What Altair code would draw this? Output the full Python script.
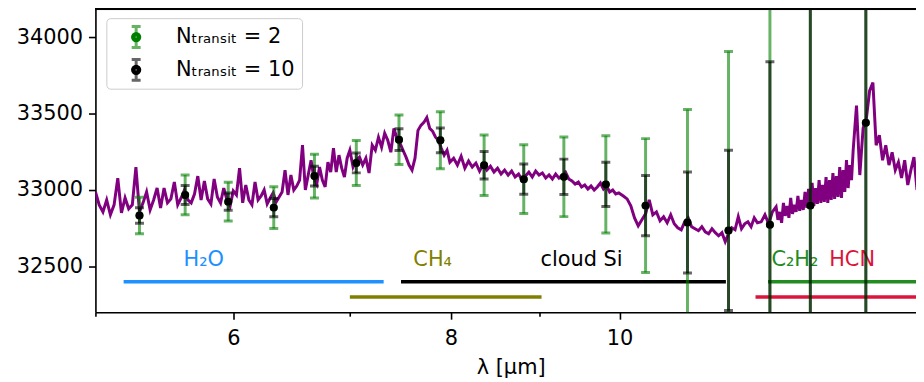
import altair as alt
import pandas as pd

# ---------------- spectrum ----------------
WL_A = [5.000, 5.025, 5.050, 5.075, 5.100, 5.125, 5.150, 5.175, 5.200, 5.225,
        5.250, 5.275, 5.300, 5.325, 5.350, 5.375, 5.400, 5.425, 5.450, 5.475,
        5.500, 5.525, 5.550, 5.575, 5.600, 5.625, 5.650, 5.675, 5.700, 5.725,
        5.750, 5.775, 5.800, 5.825, 5.850, 5.875, 5.900, 5.925, 5.950, 5.975, 6.000]
FL_A = [32990, 32903, 32857, 32935, 32838, 32903, 33078, 32850, 32948, 32877,
        32903, 33150, 32857, 32916, 32987, 32870, 32935, 33013, 32883, 33013,
        32916, 32942, 33052, 32903, 32948, 33000, 32935, 32916, 32974, 33091,
        32935, 33059, 32942, 32909, 33072, 32955, 32916, 33013, 32935, 32896, 32994]

WL_B = [6.025, 6.050, 6.075, 6.100, 6.125, 6.150, 6.175, 6.200, 6.225, 6.250,
        6.275, 6.300, 6.325, 6.350, 6.375, 6.400, 6.425, 6.450, 6.475, 6.500,
        6.525, 6.550, 6.575, 6.600, 6.625, 6.650, 6.675, 6.700, 6.725, 6.750,
        6.775, 6.800, 6.825, 6.850, 6.875, 6.900, 6.925, 6.950, 6.975, 7.000]
FL_B = [32968, 33143, 32916, 33033, 32935, 32903, 33052, 32935, 32961, 33000,
        32909, 32948, 32981, 32922, 32955, 32987, 33130, 32968, 33098, 33000,
        33026, 33065, 33293, 33000, 33098, 33195, 33078, 33039, 33150, 33065,
        33020, 33182, 33117, 33273, 33117, 33228, 33143, 33085, 33208, 33260]

WL_C = [7.03, 7.06, 7.09, 7.12, 7.15, 7.18, 7.21, 7.24, 7.27, 7.30,
        7.33, 7.36, 7.39, 7.42, 7.45, 7.48, 7.51, 7.54, 7.57, 7.60,
        7.63, 7.66, 7.69, 7.72, 7.75, 7.78, 7.81, 7.84, 7.87, 7.90,
        7.93, 7.96, 7.99]
FL_C = [33150, 33195, 33215, 33163, 33208, 33111, 33293, 33260, 33345, 33280,
        33371, 33325, 33247, 33403, 33338, 33306, 33260, 33215, 33163, 33130,
        33208, 33390, 33423, 33442, 33474, 33403, 33384, 33345, 33325, 33273,
        33228, 33260, 33182]

WL_D = [8.03, 8.07, 8.11, 8.15, 8.19, 8.23, 8.27, 8.31, 8.35, 8.39,
        8.43, 8.47, 8.51, 8.55, 8.59, 8.63, 8.67, 8.71, 8.75, 8.79,
        8.83, 8.87, 8.91, 8.95, 8.99, 9.03, 9.07, 9.11, 9.15, 9.19,
        9.23, 9.27, 9.31, 9.35, 9.39, 9.43, 9.47, 9.51, 9.55, 9.59,
        9.63, 9.67, 9.71, 9.75, 9.79, 9.83, 9.87, 9.91, 9.95, 9.99]
FL_D = [33208, 33163, 33221, 33143, 33189, 33150, 33176, 33124, 33169, 33130,
        33156, 33117, 33143, 33104, 33130, 33098, 33124, 33085, 33104, 33065,
        33091, 33117, 33085, 33124, 33098, 33111, 33078, 33098, 33072, 33104,
        33078, 33098, 33117, 33072, 33059, 33039, 33052, 33020, 33033, 33007,
        33026, 33000, 33020, 33046, 33007, 33026, 32987, 33000, 32974, 32981]

WL_E = [10.05, 10.10, 10.15, 10.20, 10.25, 10.30, 10.35, 10.40, 10.45, 10.50,
        10.55, 10.60, 10.65, 10.70, 10.75, 10.80, 10.85, 10.90, 10.95, 11.00,
        11.05, 11.10, 11.15, 11.20, 11.25, 11.30, 11.35, 11.40, 11.45, 11.50,
        11.55, 11.60, 11.65, 11.70, 11.75, 11.80, 11.85, 11.90, 11.95, 12.00]
FL_E = [32961, 32942, 32896, 32818, 32766, 32805, 32844, 32935, 32838, 32857,
        32799, 32825, 32786, 32838, 32779, 32753, 32740, 32792, 32818, 32760,
        32747, 32734, 32760, 32727, 32714, 32747, 32721, 32701, 32721, 32662,
        32714, 32753, 32740, 32825, 32747, 32779, 32792, 32760, 32818, 32786]

WL_F = [12.06, 12.12, 12.18, 12.24]
FL_F = [32792, 32838, 32779, 32857]

WL_G = [12.30, 12.33, 12.36, 12.39, 12.42, 12.45, 12.48, 12.51, 12.54, 12.57,
        12.60, 12.63, 12.66, 12.69, 12.72, 12.75, 12.78, 12.81, 12.84, 12.87,
        12.90, 12.93, 12.96, 12.99, 13.02, 13.05, 13.08, 13.11, 13.14, 13.17,
        13.20, 13.23, 13.26, 13.29, 13.32, 13.35, 13.38, 13.41, 13.44, 13.47,
        13.50, 13.53, 13.56, 13.59, 13.62]
FL_G = [32890, 32805, 32857, 32786, 32916, 32831, 32896, 32818, 32948, 32844,
        32903, 32857, 32961, 32864, 32935, 32870, 32987, 32883, 33007, 32890,
        33046, 32896, 33013, 32909, 33065, 32916, 33033, 32922, 33085, 32916,
        33065, 32935, 33111, 32942, 33091, 32955, 33150, 32948, 33130, 32987,
        33195, 33013, 33163, 33065, 33260]

WL_H = [13.68, 13.74, 13.80, 13.86, 13.92, 13.98, 14.04, 14.10, 14.16, 14.22,
        14.28, 14.34, 14.40, 14.46, 14.52, 14.58, 14.64, 14.70, 14.76, 14.82]
FL_H = [33552, 33098, 33403, 33468, 33650, 33702, 33293, 33358, 33195, 33293,
        33163, 33247, 33130, 33182, 33078, 33195, 33033, 33130, 33215, 33000]

# ---------------- binned points with error bars ----------------
PT_WL = [5.30, 5.63, 5.96, 6.33, 6.68, 7.06, 7.47, 7.89, 8.36, 8.81,
         9.29, 9.82, 10.35, 10.94, 11.55, 12.20, 12.87, 13.85]
PT_FLUX = [32833, 32968, 32924, 32885, 33091, 33177, 33329, 33325, 33162, 33071,
           33086, 33037, 32898, 32788, 32736, 32773, 32898, 33440]
ERR_N2 = [119, 130, 127, 136, 143, 147, 162, 186, 198, 225,
          260, 318, 438, 738, 1169, 2375, 3350, 4470]
ERR_N10 = [51, 62, 56, 60, 65, 65, 71, 81, 90, 99,
           116, 145, 197, 330, 524, 1065, 1500, 2000]

# ---------------- molecule bands ----------------
BAND_NAME = ["H\u2082O", "CH\u2084", "cloud Si", "C\u2082H\u2082", "HCN"]
BAND_START = [5.19, 7.00, 7.49, 12.17, 11.97]
BAND_END = [7.32, 9.02, 11.51, 20.0, 20.0]
BAND_LEVEL = [32400, 32300, 32400, 32400, 32300]
BAND_LABEL_X = [5.77, 7.81, 9.51, 12.61, 13.60]
BAND_LABEL_Y = [32500, 32500, 32500, 32500, 32500]
BAND_COLOR = ["#1e90ff", "#808000", "#000000", "#228b22", "#dc143c"]

LEG_LABELS = ["N\u209c\u1d63\u2090\u2099\u209b\u1d62\u209c = 2",
              "N\u209c\u1d63\u2090\u2099\u209b\u1d62\u209c = 10"]
LEG_DOTS = ["dot2", "dot10"]

X_DOMAIN = [5.0, 14.80]
Y_DOMAIN = [32201, 34182]
X_TICKS = [5, 6, 7, 8, 9, 10]
Y_TICKS = [32500, 33000, 33500, 34000]

FONT = "DejaVu Sans"
FS = 21

spec = pd.DataFrame({"wl": WL_A + WL_B + WL_C + WL_D + WL_E + WL_F + WL_G + WL_H,
                     "flux": FL_A + FL_B + FL_C + FL_D + FL_E + FL_F + FL_G + FL_H})
pts = pd.DataFrame({"wl": PT_WL, "flux": PT_FLUX, "e2": ERR_N2, "e10": ERR_N10})
pts["lo2"] = pts["flux"] - pts["e2"]
pts["hi2"] = pts["flux"] + pts["e2"]
pts["lo10"] = pts["flux"] - pts["e10"]
pts["hi10"] = pts["flux"] + pts["e10"]
bands = pd.DataFrame({"name": BAND_NAME, "x1": BAND_START, "x2": BAND_END,
                      "lvl": BAND_LEVEL, "lx": BAND_LABEL_X, "ly": BAND_LABEL_Y,
                      "col": BAND_COLOR})
leg = pd.DataFrame({"wl": [1.0, 1.0], "flux": [33000, 33000],
                    "series": LEG_LABELS, "dot": LEG_DOTS})

xs = alt.Scale(type="log", domain=X_DOMAIN, nice=False)
ys = alt.Scale(domain=Y_DOMAIN, nice=False, zero=False)

x_axis = alt.Axis(values=X_TICKS, format="d",
                  labelExpr="(datum.value == 6 || datum.value == 8 || datum.value == 10) ? datum.label : ''",
                  tickSize={"condition": {"test": "datum.value == 5 || datum.value == 7 || datum.value == 9",
                                          "value": 4}, "value": 7},
                  labelOverlap=False, labelFlush=False, labelPadding=8, grid=False,
                  title="\u03bb [\u03bcm]", titleX=418, titlePadding=9,
                  titleFont=FONT, titleFontSize=FS, titleFontWeight="normal", titleColor="black",
                  labelFont=FONT, labelFontSize=FS, labelColor="black",
                  domainColor="black", domainWidth=1.6, tickColor="black", tickWidth=1.6)
y_axis = alt.Axis(values=Y_TICKS, format="d", tickSize=7, labelPadding=6, grid=False,
                  title=None, labelFont=FONT, labelFontSize=FS, labelColor="black",
                  domainColor="black", domainWidth=1.6, tickColor="black", tickWidth=1.6)


def xq(field):
    return alt.X(field, type="quantitative", scale=xs, axis=x_axis)


def yq(field):
    return alt.Y(field, type="quantitative", scale=ys, axis=y_axis)


band_lines = alt.Chart(bands).mark_rule(strokeWidth=3.5, clip=True).encode(
    x=xq("x1"), x2="x2:Q", y=yq("lvl"), color=alt.Color("col:N", scale=None))
band_text = alt.Chart(bands).mark_text(font=FONT, fontSize=FS, align="center",
                                       baseline="alphabetic").encode(
    x=xq("lx"), y=yq("ly"), text="name:N", color=alt.Color("col:N", scale=None))

line = alt.Chart(spec).mark_line(color="#800080", strokeWidth=3, clip=True).encode(
    x=xq("wl"), y=yq("flux"))

bar2 = alt.Chart(pts).mark_rule(color="#008000", opacity=0.6, strokeWidth=3, clip=True).encode(
    x=xq("wl"), y=yq("lo2"), y2="hi2:Q")
cap2lo = alt.Chart(pts).mark_tick(color="#008000", opacity=0.6, orient="horizontal",
                                  size=9, thickness=3, clip=True).encode(x=xq("wl"), y=yq("lo2"))
cap2hi = alt.Chart(pts).mark_tick(color="#008000", opacity=0.6, orient="horizontal",
                                  size=9, thickness=3, clip=True).encode(x=xq("wl"), y=yq("hi2"))
bar10 = alt.Chart(pts).mark_rule(color="#000000", opacity=0.6, strokeWidth=3, clip=True).encode(
    x=xq("wl"), y=yq("lo10"), y2="hi10:Q")
cap10lo = alt.Chart(pts).mark_tick(color="#000000", opacity=0.6, orient="horizontal",
                                   size=9, thickness=3, clip=True).encode(x=xq("wl"), y=yq("lo10"))
cap10hi = alt.Chart(pts).mark_tick(color="#000000", opacity=0.6, orient="horizontal",
                                   size=9, thickness=3, clip=True).encode(x=xq("wl"), y=yq("hi10"))
dots2 = alt.Chart(pts).mark_point(filled=True, size=64, color="#008000", opacity=1).encode(
    x=xq("wl"), y=yq("flux"))
dots10 = alt.Chart(pts).mark_point(filled=True, size=64, color="#000000", opacity=1).encode(
    x=xq("wl"), y=yq("flux"))

top_spine = alt.Chart(spec).mark_rule(color="black", strokeWidth=1.6).encode(
    y=alt.datum(Y_DOMAIN[1], scale=ys, axis=y_axis))

PATH_BAR = ("M-0.125,-1L0.125,-1L0.125,1L-0.125,1Z "
            "M-0.375,-1L0.375,-1L0.375,-0.75L-0.375,-0.75Z "
            "M-0.375,0.75L0.375,0.75L0.375,1L-0.375,1Z")
PATH_DOT = " ".join(
    "M-{r},0A{r},{r},0,1,1,{r},0A{r},{r},0,1,1,-{r},0Z".format(r=r)
    for r in ["0.03", "0.06", "0.09", "0.12", "0.15", "0.18"])

leg_a = alt.Legend(title=None, orient="none", legendX=11, legendY=9, padding=7,
                   symbolOffset=11, labelOffset=28, rowPadding=9,
                   symbolType=PATH_BAR, symbolSize=576, symbolStrokeWidth=0,
                   labelFont=FONT, labelFontSize=FS, labelColor="black", labelLimit=400,
                   fillColor="rgba(255,255,255,0.8)", strokeColor="#cccccc", cornerRadius=4)
leg_b = alt.Legend(title=None, orient="none", legendX=11, legendY=9, padding=4,
                   symbolOffset=11, labelOffset=28, rowPadding=3,
                   symbolType=PATH_DOT, symbolSize=576, symbolStrokeWidth=6,
                   labelFont=FONT, labelFontSize=FS, labelOpacity=0, labelLimit=400,
                   labelExpr="''")

carrier_a = alt.Chart(leg).mark_point(filled=True, strokeWidth=0, opacity=1, clip=True).encode(
    x=xq("wl"), y=yq("flux"),
    fill=alt.Fill("series:N", scale=alt.Scale(domain=LEG_LABELS, range=["#66b366", "#666666"]),
                  legend=leg_a))
carrier_b = alt.Chart(leg).mark_point(filled=False, strokeWidth=6, opacity=1, clip=True).encode(
    x=xq("wl"), y=yq("flux"),
    stroke=alt.Stroke("dot:N", scale=alt.Scale(domain=LEG_DOTS, range=["#008000", "#000000"]),
                      legend=leg_b))

chart = alt.layer(
    line, band_lines, band_text, bar2, cap2lo, cap2hi, bar10, cap10lo, cap10hi,
    dots2, dots10, top_spine, carrier_a, carrier_b
).properties(
    width=826, height=305,
    autosize=alt.AutoSizeParams(type="none"),
    padding={"left": 88, "top": 0, "right": 0, "bottom": 68},
).configure_view(stroke=None).configure(font=FONT)

chart.save("out.html", embed_options={"renderer": "svg", "actions": False})
